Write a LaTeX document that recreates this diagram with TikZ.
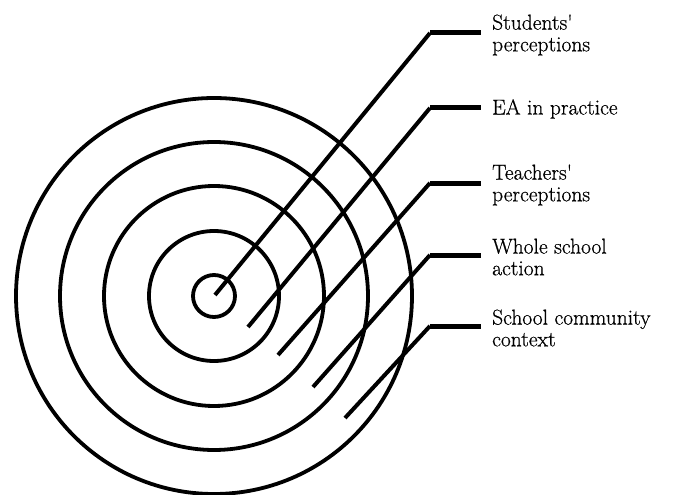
\documentclass[tikz,border=0pt]{standalone}
\usepackage{fontspec}
\newfontfamily\labfont{Latin Modern Roman}[FakeBold=0.6]
\begin{document}
\begin{tikzpicture}[x=1pt,y=-1pt,
  ring/.style={draw, circle, inner sep=0pt, line width=3.8pt},
  leader/.style={line width=4pt},
  tickline/.style={line width=5pt},
  lab/.style={anchor=west, align=left, inner sep=0pt, inner xsep=11pt,
    font=\labfont\fontsize{21.5}{21.7}\selectfont}]
\useasboundingbox (0,0) rectangle (673,495);
\coordinate (c) at (214,296);
\node[ring, minimum size=42pt]  (r1) at (c) {};
\node[ring, minimum size=130pt] (r2) at (c) {};
\node[ring, minimum size=220pt] (r3) at (c) {};
\node[ring, minimum size=308pt] (r4) at (c) {};
\node[ring, minimum size=396pt] (r5) at (c) {};
% label nodes
\node[lab] (l1) at (481,35)  {Students\textquotesingle\\perceptions};
\node[lab] (l2) at (481,109) {EA in practice};
\node[lab] (l3) at (481,185) {Teachers\textquotesingle\\perceptions};
\node[lab] (l4) at (481,257) {Whole school\\action};
\node[lab] (l5) at (481,328) {School community\\context};
% leader coordinates
\coordinate (s1) at (215,295); \coordinate (k1) at (430,33);
\coordinate (s2) at (248,327); \coordinate (k2) at (430,108);
\coordinate (s3) at (278,355); \coordinate (k3) at (430,183);
\coordinate (s4) at (313,387); \coordinate (k4) at (430,255);
\coordinate (s5) at (345,418); \coordinate (k5) at (430,326);
\foreach \i in {1,...,5}{
  \draw[leader] (s\i) -- (k\i);
  \draw[tickline] (k\i) -- (k\i -| l\i.west);
}
\end{tikzpicture}
\end{document}
